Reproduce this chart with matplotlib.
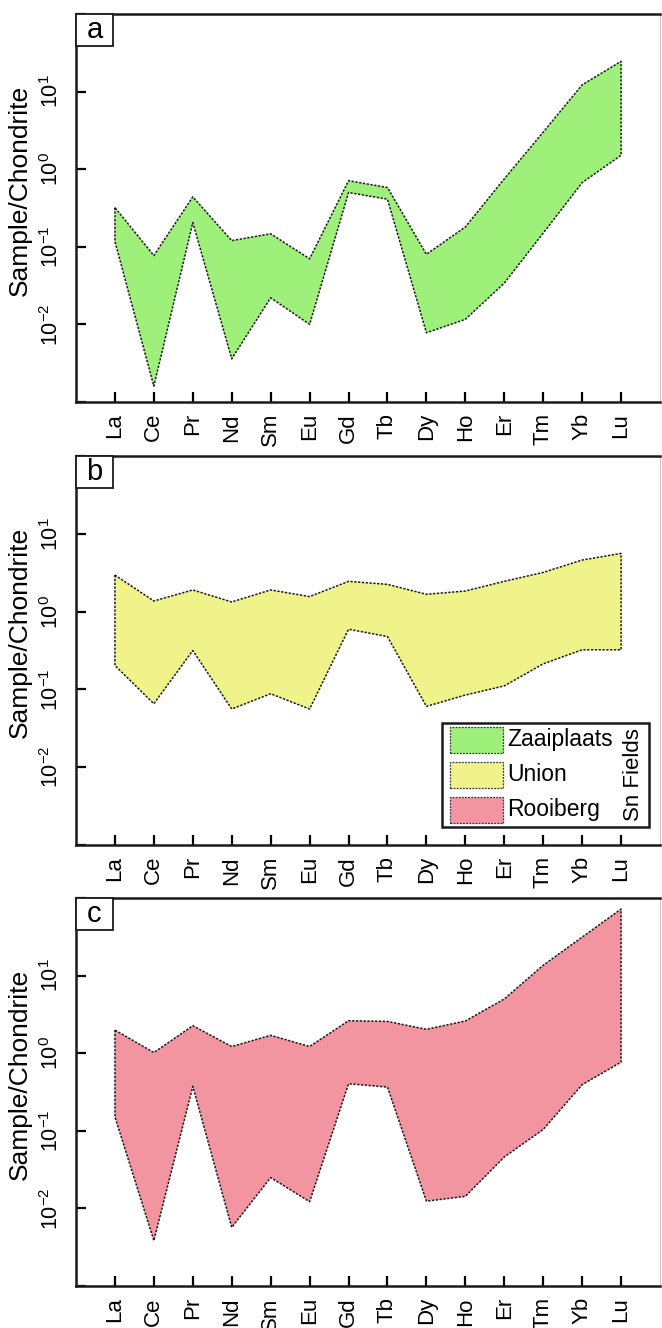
import numpy as np
import matplotlib
matplotlib.use('Agg')
import matplotlib.pyplot as plt
from matplotlib.patches import Rectangle
from matplotlib.transforms import ScaledTranslation

plt.rcParams['font.family'] = ['Liberation Sans', 'DejaVu Sans']
plt.rcParams['mathtext.default'] = 'regular'

elements = ['La', 'Ce', 'Pr', 'Nd', 'Sm', 'Eu', 'Gd', 'Tb', 'Dy', 'Ho', 'Er', 'Tm', 'Yb', 'Lu']

# chondrite-normalised REE ranges (max / min envelope) per Sn field
zaaiplaats_max = [0.32, 0.077, 0.44, 0.12, 0.147, 0.070, 0.71, 0.58, 0.080, 0.18, 0.75, 3.0, 12.2, 24.5]
zaaiplaats_min = [0.117, 0.0016, 0.205, 0.0036, 0.022, 0.010, 0.50, 0.41, 0.0078, 0.0116, 0.034, 0.15, 0.67, 1.51]

union_max = [2.95, 1.37, 1.90, 1.33, 1.90, 1.56, 2.45, 2.24, 1.67, 1.84, 2.45, 3.19, 4.6, 5.6]
union_min = [0.203, 0.0655, 0.316, 0.056, 0.088, 0.056, 0.594, 0.478, 0.0605, 0.0846, 0.111, 0.213, 0.323, 0.323]

rooiberg_max = [1.99, 1.02, 2.26, 1.22, 1.70, 1.22, 2.62, 2.57, 2.03, 2.60, 5.0, 13.6, 31.3, 72]
rooiberg_min = [0.151, 0.00385, 0.374, 0.0057, 0.025, 0.0122, 0.404, 0.366, 0.0124, 0.0143, 0.046, 0.104, 0.393, 0.767]

fields = ['Zaaiplaats', 'Union', 'Rooiberg']
colors = ['#9ef07a', '#f0f38a', '#f395a0']
panel_letters = ['a', 'b', 'c']
ranges = [(zaaiplaats_min, zaaiplaats_max), (union_min, union_max), (rooiberg_min, rooiberg_max)]

ytick_vals = [1e-3, 1e-2, 1e-1, 1e0, 1e1, 1e2]
ytick_labels = ['', '$10^{-2}$', '$10^{-1}$', '$10^{0}$', '$10^{1}$', '']

dots = (0, (1.5, 1.0))
x = np.arange(len(elements))

fig = plt.figure(figsize=(6.62, 13.28), dpi=100)
# axes boxes in figure fraction: left, bottom, width, height
boxes = [[0.1148, 0.6973, 0.8822, 0.2922],
         [0.1148, 0.3637, 0.8822, 0.2929],
         [0.1148, 0.0316, 0.8822, 0.2922]]

# the exponent sticks up, the "10" sits on the tick
shift_up = ScaledTranslation(0, 4 / 72, fig.dpi_scale_trans)

for i in range(3):
    ax = fig.add_axes(boxes[i])
    lo, hi = ranges[i]
    ax.fill_between(x, lo, hi, facecolor=colors[i], edgecolor='#1a1a1a',
                    linestyle=dots, linewidth=1.1, zorder=2)
    ax.set_yscale('log')
    ax.set_ylim(1e-3, 1e2)
    ax.set_xlim(-1, 14)
    ax.set_xticks(x)
    ax.set_xticklabels(elements, rotation=90, fontsize=16)
    ax.set_yticks(ytick_vals)
    ax.set_yticklabels(ytick_labels, rotation=90, va='center', fontsize=15.5)
    for lab in ax.get_yticklabels():
        lab.set_transform(lab.get_transform() + shift_up)
    ax.minorticks_off()
    ax.tick_params(axis='y', direction='in', length=7, width=1.6, pad=9)
    ax.tick_params(axis='x', direction='in', length=7, width=1.6, pad=8)
    ax.set_ylabel('Sample/Chondrite', fontsize=19)
    ax.yaxis.set_label_coords(-0.076, 0.546)
    for s in ['left', 'bottom', 'top']:
        ax.spines[s].set_linewidth(1.8)
        ax.spines[s].set_color('#1a1a1a')
    ax.spines['right'].set_linewidth(0.8)
    ax.spines['right'].set_color('#c8c8c8')

    # panel letter box
    ax.add_patch(Rectangle((0, 1 - 0.0825), 0.063, 0.0825, transform=ax.transAxes,
                           facecolor='white', edgecolor='#1a1a1a', linewidth=1.3,
                           zorder=5, clip_on=False))
    ax.text(0.0315, 1 - 0.041, panel_letters[i], transform=ax.transAxes,
            ha='center', va='center', fontsize=21, zorder=6)

    if i == 1:
        # legend drawn by hand so the "Sn Fields" title can sit rotated on the right
        ax.add_patch(Rectangle((0.627, 0.046), 0.354, 0.268, transform=ax.transAxes,
                               facecolor='white', edgecolor='#1a1a1a', linewidth=1.8,
                               zorder=5))
        for k in range(3):
            yc = 0.270 - k * 0.090
            ax.add_patch(Rectangle((0.641, yc - 0.033), 0.091, 0.066, transform=ax.transAxes,
                                   facecolor=colors[k], edgecolor='#333333', linestyle=dots,
                                   linewidth=0.9, zorder=6))
            ax.text(0.738, yc, fields[k], transform=ax.transAxes, ha='left', va='center',
                    fontsize=16.5, zorder=6)
        ax.text(0.954, 0.180, 'Sn Fields', transform=ax.transAxes, rotation=90,
                ha='center', va='center', fontsize=16, zorder=6)

plt.savefig('out.png', dpi=100)
plt.close()
